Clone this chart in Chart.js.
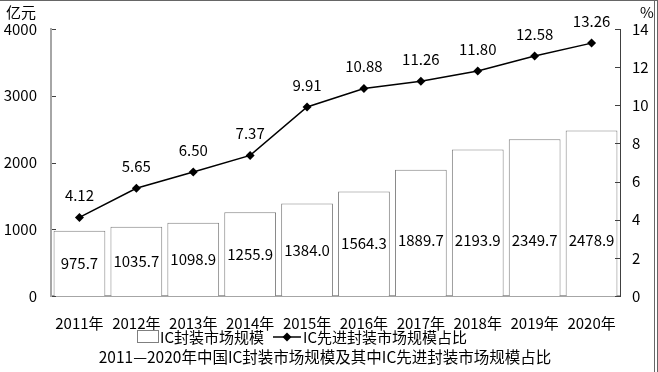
<!DOCTYPE html>
<html>
<head>
<meta charset="utf-8">
<script src="https://cdn.jsdelivr.net/npm/chart.js@4.4.1/dist/chart.umd.min.js"></script>
<style>
  html, body { margin: 0; padding: 0; background: #fff; }
  #wrap { position: relative; width: 658px; height: 372px; }
</style>
</head>
<body>
<div id="wrap"><canvas id="mainChart" width="658" height="372"></canvas></div>
<script>
const years = ['2011年', '2012年', '2013年', '2014年', '2015年', '2016年', '2017年', '2018年', '2019年', '2020年'];
const marketSize = [975.7, 1035.7, 1098.9, 1255.9, 1384.0, 1564.3, 1889.7, 2193.9, 2349.7, 2478.9];
const advancedShare = [4.12, 5.65, 6.50, 7.37, 9.91, 10.88, 11.26, 11.80, 12.58, 13.26];
const leftTicks = [0, 1000, 2000, 3000, 4000];
const rightTicks = [0, 2, 4, 6, 8, 10, 12, 14];

const FONT = '"Noto Sans CJK SC", "Noto Sans", sans-serif';
const ctx = document.getElementById('mainChart').getContext('2d');

// 数据标签、图例、标题、内侧刻度
const decor = {
    id: 'decor',
    afterDraw(chart) {
        const c = chart.ctx;
        const ys = chart.scales.y, y1 = chart.scales.y1, area = chart.chartArea;
        c.save();
        c.font = '15px ' + FONT;
        c.fillStyle = '#000';
        c.textAlign = 'center';
        c.textBaseline = 'middle';

        // 柱内数值
        const clampY = ys.getPixelForValue(830);
        chart.getDatasetMeta(0).data.forEach((bar, i) => {
            const mid = (bar.y + bar.base) / 2;
            c.fillText(marketSize[i].toFixed(1), bar.x, Math.max(mid, clampY));
        });
        // 折线数值
        chart.getDatasetMeta(1).data.forEach((pt, i) => {
            c.fillText(advancedShare[i].toFixed(2), pt.x, pt.y - 22);
        });

        // 内侧刻度线
        c.lineWidth = 1;
        c.strokeStyle = '#404040';
        leftTicks.forEach(v => {
            const y = Math.round(ys.getPixelForValue(v)) + 0.5;
            c.beginPath(); c.moveTo(area.left + 1, y); c.lineTo(area.left + 5, y); c.stroke();
        });
        rightTicks.forEach(v => {
            const y = Math.round(y1.getPixelForValue(v)) + 0.5;
            c.beginPath(); c.moveTo(area.right - 5, y); c.lineTo(area.right, y); c.stroke();
        });

        // 轴标题
        c.textAlign = 'left';
        c.fillText('亿元', 6, 12);
        c.fillText('%', 640, 12);

        // 图例
        const ly = 337;
        c.strokeStyle = '#7f7f7f';
        c.fillStyle = '#fff';
        c.fillRect(137.5, ly - 6.5, 21, 12);
        c.strokeRect(137.5, ly - 6.5, 21, 12);
        c.fillStyle = '#000';
        c.fillText('IC封装市场规模', 160, ly);
        c.strokeStyle = '#000';
        c.lineWidth = 1.5;
        c.beginPath(); c.moveTo(273, ly); c.lineTo(301, ly); c.stroke();
        c.beginPath();
        c.moveTo(287, ly - 4.5); c.lineTo(291.5, ly); c.lineTo(287, ly + 4.5); c.lineTo(282.5, ly);
        c.closePath(); c.fill();
        c.fillText('IC先进封装市场规模占比', 303, ly);

        // 标题
        c.textAlign = 'center';
        c.font = '15.5px ' + FONT;
        c.fillText('2011—2020年中国IC封装市场规模及其中IC先进封装市场规模占比', 325, 357);

        // 外框
        c.strokeStyle = '#666';
        c.lineWidth = 1;
        c.beginPath(); c.moveTo(0, 0.5); c.lineTo(658, 0.5); c.stroke();
        c.beginPath(); c.moveTo(654.5, 0); c.lineTo(654.5, 372); c.stroke();
        c.beginPath(); c.moveTo(657.5, 0); c.lineTo(657.5, 372); c.stroke();
        c.restore();
    }
};

new Chart(ctx, {
    data: {
        labels: years,
        datasets: [{
            type: 'bar',
            data: marketSize,
            backgroundColor: '#fff',
            borderColor: '#808080',
            borderWidth: 1,
            categoryPercentage: 1,
            barPercentage: 0.91,
            yAxisID: 'y',
            order: 2
        }, {
            type: 'line',
            data: advancedShare,
            borderColor: '#000',
            backgroundColor: '#000',
            borderWidth: 1.5,
            pointStyle: 'rectRot',
            pointRadius: 4.5,
            pointBackgroundColor: '#000',
            pointBorderWidth: 0,
            tension: 0,
            yAxisID: 'y1',
            order: 1
        }]
    },
    options: {
        responsive: false,
        animation: false,
        layout: { padding: { top: 29, left: 0, right: 4 } },
        plugins: { legend: { display: false }, tooltip: { enabled: false } },
        scales: {
            x: {
                grid: { display: false, drawTicks: false },
                border: { color: '#a6a6a6', width: 2 },
                ticks: { color: '#000', font: { size: 15, family: FONT }, padding: 18, maxRotation: 0, autoSkip: false },
                afterFit: s => { s.height = 76; }
            },
            y: {
                position: 'left',
                min: 0, max: 4000,
                afterBuildTicks: s => { s.ticks = leftTicks.map(v => ({ value: v })); },
                grid: { display: false, drawTicks: false },
                border: { color: '#a6a6a6', width: 2 },
                ticks: { color: '#000', font: { size: 15, family: FONT }, padding: 14, callback: v => String(v) },
                afterFit: s => { s.width = 51; }
            },
            y1: {
                position: 'right',
                min: 0, max: 14,
                afterBuildTicks: s => { s.ticks = rightTicks.map(v => ({ value: v })); },
                grid: { display: false, drawTicks: false },
                border: { color: '#404040', width: 1 },
                ticks: { color: '#000', font: { size: 15, family: FONT }, padding: 12, callback: v => String(v) },
                afterFit: s => { s.width = 34; }
            }
        }
    },
    plugins: [decor]
});
</script>
</body>
</html>
